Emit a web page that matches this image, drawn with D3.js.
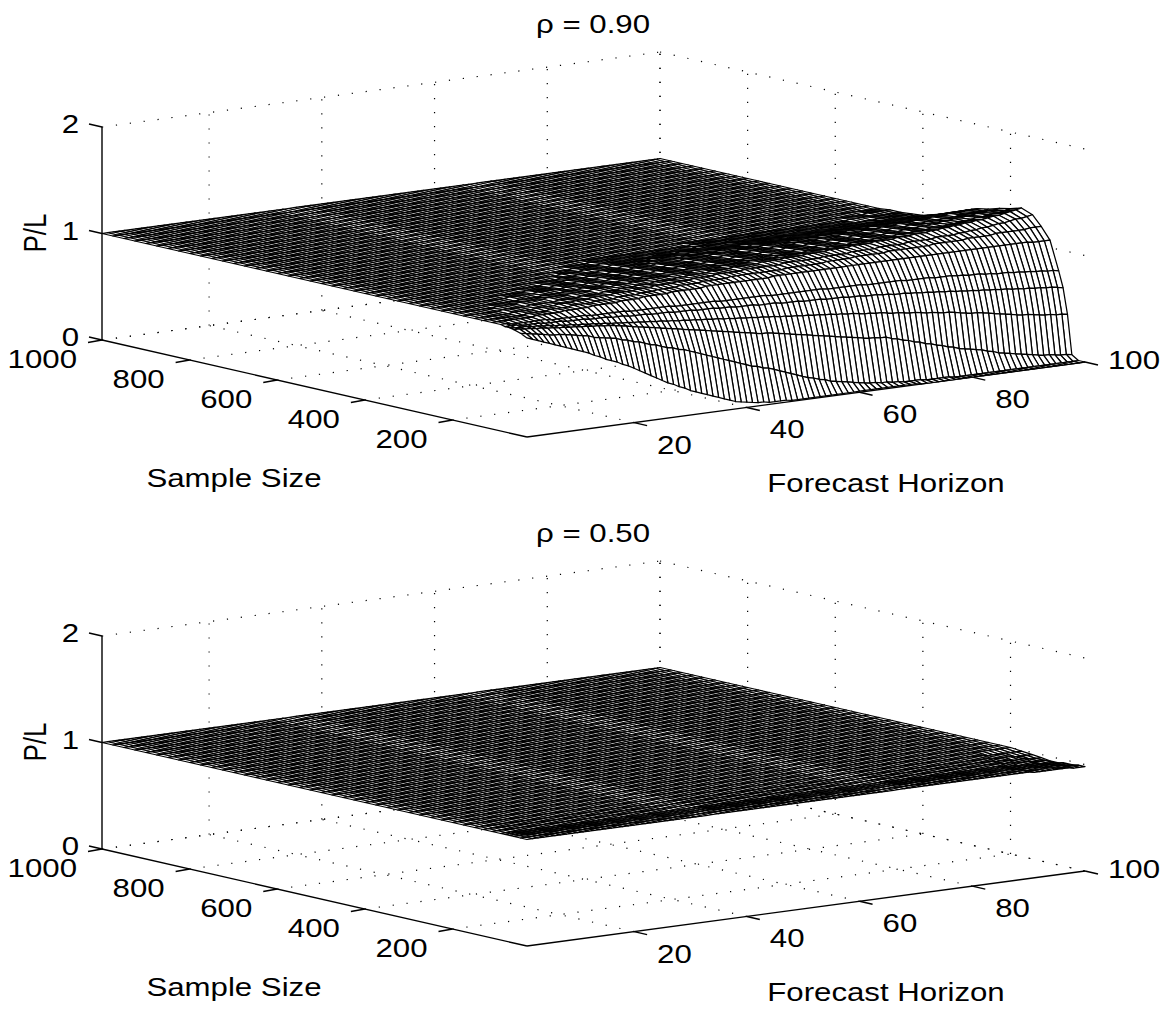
<!DOCTYPE html>
<html>
<head>
<meta charset="utf-8">
<script src="https://cdn.jsdelivr.net/npm/d3@7"></script>
<style>
  html, body { margin: 0; background: #fff; }
  text { font-family: "Liberation Sans", Arial, sans-serif; font-size: 26px; fill: #000; }
</style>
</head>
<body>
<div id="chart"></div>
<script>
const sampleSizes = [30, 45, 60, 70, 80, 90, 110, 130, 150, 175, 200, 225, 250, 275, 300, 325, 350, 375, 400, 425, 450, 475, 500, 525, 550, 575, 600, 625, 650, 675, 700, 725, 750, 775, 800, 825, 850, 875, 900, 925, 950, 975, 1000];
const horizons = d3.range(1, 101);
const sampleTicks = [200, 400, 600, 800, 1000];
const horizonTicks = [20, 40, 60, 80, 100];
const ratioTicks = [0, 1, 2];

// P/L in percent. Left of the listed part a row sits on the plateau.
const plateau = 100;

const rho90Start = [1, 1, 1, 1, 1, 1, 1, 1, 1, 1, 1, 11, 11, 16, 21, 26, 31, 36, 41, 61, 91, 96];
const rho90Rows = [
  [93,91,89,87,85,83,81,79,77,75, 73,71,68,66,63,61,59,56,54,51, 48,45,42,39,36,33,31,28,26,23, 21,19,17,15,13,11,9,7,6,5,
   4,3,3,2,2,2,2,1,1,1, 1,1,1,1,1,1,1,1,1,1, 1,1,1,1,1,1,1,1,1,1, 0,0,0,0,0,0,0,0,0,0, 0,0,0,0,0,0,0,0,0,0, 0,0,0,0,0,0,0,0,0,0],
  [96,95,94,93,92,91,90,90,89,88, 87,86,85,83,82,81,80,79,77,76, 74,73,71,69,68,66,64,63,61,60, 58,56,54,52,50,48,46,44,42,40,
   38,36,35,33,32,30,28,26,24,22, 20,18,17,15,14,12,11,10,9,8, 7,6,5,5,4,4,3,3,2,2, 2,2,1,1,1,1,1,0,0,0, 0,0,0,0,0,0,0,0,0,0, 0,0,0,0,0,0,0,0,0,0],
  [98,98,97,97,96,96,95,95,94,94, 93,93,92,92,91,91,90,90,89,88, 87,86,85,84,83,82,81,80,79,78, 77,76,75,74,73,72,71,70,69,68,
   67,66,65,64,63,63,62,61,60,59, 58,57,56,55,54,53,52,51,50,49, 48,47,46,45,45,44,44,42,41,39, 38,36,35,33,32,30,29,27,26,24, 23,22,21,20,18,17,15,14,13,12, 11,10,9,8,7,7,6,5,5,4],
  [99,98,98,98,97,97,96,96,95,95, 94,94,93,93,92,92,91,91,90,90, 89,89,88,88,87,87,86,86,85,85, 84,84,83,83,82,82,81,81,80,80,
   79,79,78,78,77,77,76,76,75,75, 74,74,73,73,72,72,71,71,70,70, 69,69,68,67,67,66,66,65,64,64, 63,62,62,61,60,60,59,58,58,57, 56,55,54,54,53,52,51,50,49,48, 47,46,46,45,44,43,43,42,42,41],
  [99,99,99,98,98,98,98,97,97,97, 97,96,96,96,96,95,95,95,95,94, 94,94,93,93,93,93,92,92,92,92, 91,91,91,91,90,90,90,90,89,89,
   89,88,88,88,88,87,87,87,87,86, 86,86,86,85,85,85,85,84,84,84, 84,83,83,83,82,82,82,81,81,80, 80,80,79,79,78,78,77,77,76,76, 75,75,74,74,73,73,72,72,71,71, 70,70,69,69,68,68,67,67,66,65],
  [100,100,99,99,99,99,99,99,99,98, 98,98,98,98,98,98,97,97,97,97, 97,97,97,96,96,96,96,96,96,96, 96,95,95,95,95,95,95,95,95,94,
   94,94,94,94,94,94,94,94,93,93, 93,93,93,93,93,93,93,93,92,92, 92,92,92,92,92,91,91,91,91,91, 91,91,90,90,90,90,90,89,89,89, 89,88,88,87,87,87,86,86,85,85, 85,84,84,83,83,82,82,81,81,80],
  [100,100,100,100,100,100,100,100,101,101, 101,101,101,102,102,102,102,102,103,103, 103,103,103,104,104,104,104,105,105,105, 105,105,106,106,106,106,106,106,107,107,
   107,107,107,107,107,107,107,107,107,107, 108,108,108,108,108,108,108,108,108,108, 108,108,108,108,108,108,108,108,108,108, 108,108,108,108,108,108,108,108,108,108, 108,108,108,108,108,108,108,108,108,108, 108,108,108,108,108,108,107,107,107,107],
  [100,100,100,100,100,100,100,100,101,101, 101,101,102,102,102,102,103,103,103,103, 104,104,104,104,105,105,105,105,106,106, 106,107,107,107,107,108,108,108,108,109,
   109,109,109,109,110,110,110,110,110,110, 110,110,110,110,111,111,111,111,111,111, 111,112,112,112,112,112,113,113,113,113, 113,113,114,114,114,114,114,114,114,114, 115,115,115,115,115,115,116,116,116,116, 116,117,117,117,117,117,117,118,118,118],
  [100,100,100,100,100,100,100,101,101,101, 101,102,102,102,102,103,103,103,104,104, 104,105,105,105,105,106,106,106,106,107, 107,107,108,108,108,108,109,109,109,110,
   110,110,110,111,111,111,111,111,112,112, 112,112,112,112,112,113,113,113,113,113, 113,113,114,114,114,114,114,115,115,115, 115,115,116,116,116,116,116,117,117,117, 117,117,118,118,118,118,119,119,120,120, 121,121,122,123,123,124,125,125,126,127],
  [100,100,100,100,100,100,100,101,101,101, 101,101,102,102,102,102,102,103,103,103, 103,104,104,104,104,105,105,105,106,106, 106,107,107,107,108,108,108,108,109,109,
   110,110,110,110,111,111,111,111,112,112, 112,112,112,113,113,113,113,114,114,114, 114,115,115,115,115,116,116,116,116,117, 117,117,117,118,118,118,118,119,119,119, 120,120,120,121,121,122,122,123,123,124, 124,125,125,126,127,127,128,129,130,131],
  [100,100,100,100,100,100,100,100,101,101, 101,101,102,102,102,102,102,103,103,103, 103,104,104,104,104,105,105,105,105,106, 106,106,107,107,107,108,108,108,108,109,
   109,109,109,110,110,110,110,110,111,111, 111,111,111,112,112,112,112,112,113,113, 113,113,113,114,114,114,114,115,115,115, 115,116,116,116,116,117,117,117,117,118, 118,118,119,119,119,120,120,120,121,121, 122,122,123,124,124,125,126,126,127,128],
  [100,100,100,100,101,101,101,101,102,102, 102,102,103,103,103,104,104,104,104,105, 105,105,106,106,106,106,107,107,107,107,
   108,108,108,108,109,109,109,109,109,110, 110,110,110,110,111,111,111,111,111,112, 112,112,112,113,113,113,113,114,114,114, 114,115,115,115,115,116,116,116,116,117, 117,117,118,118,118,119,119,120,120,121, 121,122,122,123,123,124,124,125,125,126],
  [100,100,100,100,101,101,101,101,101,102, 102,102,102,102,103,103,103,103,104,104, 104,104,105,105,105,105,106,106,106,106,
   107,107,107,107,108,108,108,108,108,109, 109,109,109,109,110,110,110,110,110,111, 111,111,111,112,112,112,112,113,113,113, 113,114,114,114,114,115,115,115,115,116, 116,116,117,117,117,118,118,118,119,119, 119,120,120,120,121,121,122,122,122,123],
  [100,100,100,100,101, 101,101,101,101,102,102,102,102,103,103, 103,103,104,104,104,104,105,105,105,105,
   106,106,106,106,107,107,107,107,107,108, 108,108,108,108,109,109,109,109,109,110, 110,110,110,111,111,111,111,112,112,112, 112,113,113,113,113,114,114,114,114,115, 115,115,116,116,116,117,117,117,118,118, 118,119,119,119,120,120,120,121,121,121],
  [100,100,100,100,101,101,101,101,102,102, 102,102,103,103,103,103,104,104,104,104,
   105,105,105,105,106,106,106,106,106,107, 107,107,107,107,108,108,108,108,108,109, 109,109,109,110,110,110,110,110,111,111, 111,111,111,112,112,112,112,112,113,113, 113,113,114,114,114,114,115,115,115,115, 115,116,116,116,116,116,117,117,117,117],
  [100,100,100,100,101, 101,101,102,102,102,102,103,103,103,103,
   104,104,104,104,104,105,105,105,105,105, 105,106,106,106,106,106,106,107,107,107, 107,107,107,108,108,108,108,108,108,109, 109,109,109,109,109,110,110,110,110,110, 110,111,111,111,111,111,111,112,112,112, 112,112,112,112,113,113,113,113,113,113],
  [100,101,101,101,101,102,102,102,102,102,
   103,103,103,103,103,103,103,104,104,104, 104,104,104,104,105,105,105,105,105,105, 105,105,105,106,106,106,106,106,106,106, 106,106,107,107,107,107,107,107,107,107, 107,108,108,108,108,108,108,108,108,108, 108,108,109,109,109,109,109,109,109,109],
  [101,101,101,101,101,
   102,102,102,102,102,102,102,102,102,102, 102,102,102,102,103,103,103,103,103,103, 103,103,103,103,104,104,104,104,104,104, 104,104,104,104,105,105,105,105,105,105, 105,105,105,105,105,105,105,106,106,106, 106,106,106,106,106,106,106,106,106,106],
  [101,101,101,101,101,101,101,101,101,101, 101,101,101,101,101,101,101,101,101,102, 102,102,102,102,102,102,102,102,102,102, 102,102,102,102,102,102,102,102,102,102, 102,102,102,102,102,102,102,102,102,102, 102,103,103,103,103,103,103,103,103,103],
  [101,101,101,101,101,101,101,101,101,101, 101,101,101,101,101,101,101,101,101,101, 101,101,101,101,101,101,101,101,101,101, 101,101,101,102,102,102,102,102,102,102],
  [101,101,101,101,101,101,101,101,101,101],
  [101,101,101,101,101]
];

const rho50Start = [91, 91, 91, 91, 91, 91, 91, 91, 91, 91];
const rho50Rows = [
  [99,99,99,99,99,99,99,98,98,98],
  [99,99,99,99,99,98,98,98,98,98],
  [99,99,99,99,98,98,98,98,97,97],
  [99,99,99,98,98,98,98,97,97,97],
  [99,99,99,98,98,98,97,97,97,97],
  [99,99,98,98,98,98,97,97,97,96],
  [100,99,99,98,98,98,97,97,97,96],
  [100,99,99,99,98,98,98,97,97,97],
  [100,100,99,99,99,99,98,98,98,98],
  [100,100,100,99,99,99,99,99,99,99]
];

const width = 1167;
const height = 1009;
const textStretch = 1.2;

const hx = d3.scaleLinear().domain([1, 100]).range([0, 558]);
const hy = d3.scaleLinear().domain([1, 100]).range([0, -75]);
const sx = d3.scaleLinear().domain([30, 1000]).range([0, -425]);
const sy = d3.scaleLinear().domain([30, 1000]).range([0, -97]);
const zy = d3.scaleLinear().domain([0, 200]).range([0, -213]);

const svg = d3.select("#chart")
  .append("svg")
  .attr("width", width)
  .attr("height", height)
  .style("display", "block");

function buildGrid(starts, rows) {
  return sampleSizes.map((s, i) => {
    const row = horizons.map(() => plateau);
    if (rows[i]) rows[i].forEach((v, k) => { row[starts[i] - 1 + k] = v; });
    return row;
  });
}

function label(g, x, y, str, anchor, rotate) {
  g.append("text")
    .attr("transform", `translate(${x},${y}) scale(${textStretch},1)` + (rotate ? ` rotate(${rotate})` : ""))
    .attr("text-anchor", anchor)
    .text(str);
}

function drawPanel(topOffset, title, grid) {
  const frontX = 527;
  const frontY = 437;
  const g = svg.append("g").attr("transform", `translate(0,${topOffset})`);
  const px = (s, h) => frontX + sx(s) + hx(h);
  const py = (s, h, z) => frontY + sy(s) + hy(h) + zy(z);
  const sMax = 1000, sMin = 30, hMin = 1, hMax = 100;
  const line = d3.line();

  // dotted box behind the surface
  const gridLines = [];
  horizonTicks.forEach(h => {
    gridLines.push([[px(sMin, h), py(sMin, h, 0)], [px(sMax, h), py(sMax, h, 0)]]);
    gridLines.push([[px(sMax, h), py(sMax, h, 0)], [px(sMax, h), py(sMax, h, 200)]]);
  });
  sampleTicks.forEach(s => {
    gridLines.push([[px(s, hMin), py(s, hMin, 0)], [px(s, hMax), py(s, hMax, 0)]]);
    gridLines.push([[px(s, hMax), py(s, hMax, 0)], [px(s, hMax), py(s, hMax, 200)]]);
  });
  ratioTicks.forEach(t => {
    gridLines.push([[px(sMax, hMin), py(sMax, hMin, t * 100)], [px(sMax, hMax), py(sMax, hMax, t * 100)]]);
    gridLines.push([[px(sMax, hMax), py(sMax, hMax, t * 100)], [px(sMin, hMax), py(sMin, hMax, t * 100)]]);
  });
  g.selectAll("path.grid")
    .data(gridLines)
    .enter()
    .append("path")
    .attr("class", "grid")
    .attr("d", line)
    .attr("fill", "none")
    .attr("stroke", "#000")
    .attr("stroke-width", 1.2)
    .attr("stroke-dasharray", "1.2 12.8");

  // solid axes
  const axisLines = [
    [[px(sMax, hMin), py(sMax, hMin, 0)], [px(sMax, hMin), py(sMax, hMin, 200)]],
    [[px(sMax, hMin), py(sMax, hMin, 0)], [px(sMin, hMin), py(sMin, hMin, 0)]],
    [[px(sMin, hMin), py(sMin, hMin, 0)], [px(sMin, hMax), py(sMin, hMax, 0)]]
  ];
  // ticks point along the neighbouring axis
  sampleTicks.forEach(s => axisLines.push([[px(s, hMin), py(s, hMin, 0)], [px(s, hMin) - 14, py(s, hMin, 0) + 2.5]]));
  horizonTicks.forEach(h => axisLines.push([[px(sMin, h), py(sMin, h, 0)], [px(sMin, h) + 13, py(sMin, h, 0) + 3]]));
  ratioTicks.forEach(t => axisLines.push([[px(sMax, hMin), py(sMax, hMin, t * 100)], [px(sMax, hMin) - 13, py(sMax, hMin, t * 100) - 3]]));
  g.selectAll("path.axis")
    .data(axisLines)
    .enter()
    .append("path")
    .attr("class", "axis")
    .attr("d", line)
    .attr("fill", "none")
    .attr("stroke", "#000")
    .attr("stroke-width", 1.4);

  // mesh cells, painted from the far corner to the near one
  const cells = [];
  for (let i = sampleSizes.length - 2; i >= 0; i--) {
    for (let j = horizons.length - 2; j >= 0; j--) {
      const s0 = sampleSizes[i], s1 = sampleSizes[i + 1];
      const h0 = horizons[j], h1 = horizons[j + 1];
      cells.push([
        [px(s0, h0), py(s0, h0, grid[i][j])],
        [px(s1, h0), py(s1, h0, grid[i + 1][j])],
        [px(s1, h1), py(s1, h1, grid[i + 1][j + 1])],
        [px(s0, h1), py(s0, h1, grid[i][j + 1])]
      ]);
    }
  }
  g.selectAll("path.cell")
    .data(cells)
    .enter()
    .append("path")
    .attr("class", "cell")
    .attr("d", d => line(d) + "Z")
    .attr("fill", "#fff")
    .attr("stroke", "#000")
    .attr("stroke-width", 1.25)
    .attr("stroke-linejoin", "round");

  // text
  sampleTicks.forEach(s => label(g, px(s, hMin) - 25, py(s, hMin, 0) + 28, s, "end"));
  horizonTicks.forEach(h => {
    const dy = h === 100 ? 7 : 31;
    label(g, px(sMin, h) + 23, py(sMin, h, 0) + dy, h, "start");
  });
  ratioTicks.forEach(t => label(g, 79, py(sMax, hMin, t * 100) + 6, t, "end"));
  label(g, 234, 487, "Sample Size", "middle");
  label(g, 886, 492, "Forecast Horizon", "middle");
  label(g, 46, 233, "P/L", "middle", -90);
  label(g, 593, 33, title, "middle");
}

drawPanel(0, "\u03c1 = 0.90", buildGrid(rho90Start, rho90Rows));
drawPanel(509, "\u03c1 = 0.50", buildGrid(rho50Start, rho50Rows));
</script>
</body>
</html>
